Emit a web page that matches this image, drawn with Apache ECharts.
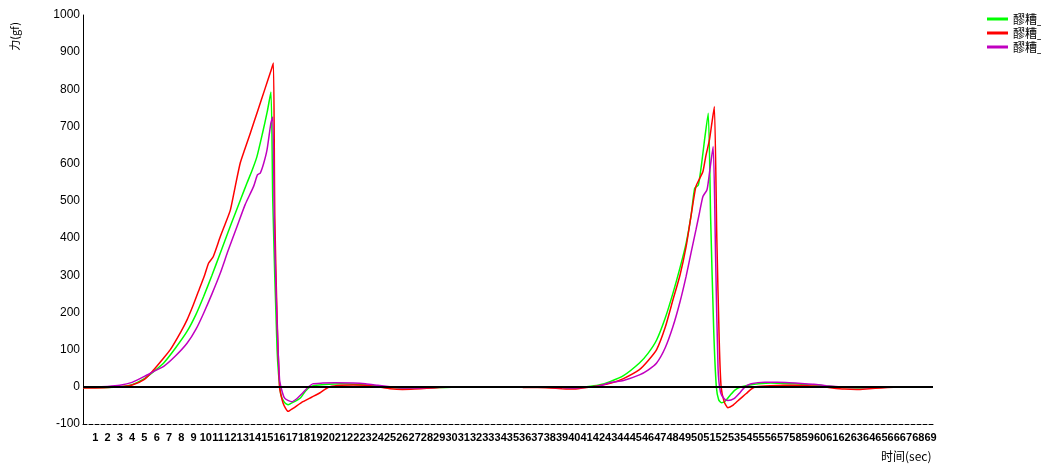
<!DOCTYPE html>
<html>
<head>
<meta charset="utf-8">
<script src="https://cdn.jsdelivr.net/npm/echarts@6/dist/echarts.min.js"></script>
<style>html,body{margin:0;padding:0;background:#fff;}#c{width:1041px;height:465px;}</style>
</head>
<body>
<div id="c"></div>
<script>
// x ticks (time, sec) and y ticks (force, gf)
const xTickLabels = Array.from({length: 69}, (_, i) => String(i + 1));
const yTicks = [-100, 0, 100, 200, 300, 400, 500, 600, 700, 800, 900, 1000];
const seriesNames = ['醪糟_1', '醪糟_2', '醪糟_3'];

// [time, force] readings; '-' marks the gap in recording
const greenData = [
  [0,-2],[1,-2],[2,-2],[3,0],[4,6],[5,22],[5.8,42],[6.57,64],[7.5,103],[8.47,149],[9.2,195],[9.82,243],
  [10.5,300],[11.18,360],[11.8,415],[12.4,467],[12.9,510],[13.35,548],[13.8,585],[14.16,619],[14.6,680],
  [15.0,740],[15.3,793],[15.45,500],[15.8,100],[16.1,-20],[16.4,-42],[16.7,-48],[17.2,-40],[17.7,-30],
  [18.1,-12],[18.5,0],[19,4],[20,7],[21,8],[22,7],[23,5],[24,2],[25,-2],[26,-4],[27,-4],[28,-3],[29,-2],
  [30,-1],[30.9,0],[33,'-'],
  [35.8,0],[37,0],[38,-1],[39,-2],[40,-3],[41,0],[42,5],[42.9,14],[44,30],[45.3,64],[46,90],[46.7,126],
  [47.4,185],[48.03,252],[48.6,320],[49.1,386],[49.5,460],[49.8,534],[50.1,543],[50.4,610],[50.6,664],
  [50.9,736],[51.1,450],[51.35,150],[51.56,0],[51.75,-35],[51.97,-43],[52.3,-38],[52.7,-22],[53.1,-8],
  [53.6,0],[54.3,5],[55,8],[56,10],[57,9],[58,8],[59,6],[60,4],[61,1],[62,-2],[63,-3],[64,-2],[65,-1],
  [66,0],[67,0],[68,0],[69.2,0]
];
const redData = [
  [0,-3],[1,-3],[2,-2],[3,0],[4,5],[5,20],[5.76,46],[6.5,75],[7.11,100],[8,150],[8.47,180],[9,222],
  [9.55,270],[9.9,300],[10.23,333],[10.6,350],[11.18,404],[11.6,440],[12.0,476],[12.4,540],[12.8,602],
  [13.15,637],[13.6,680],[14.2,740],[14.8,800],[15.3,850],[15.5,871],[15.62,450],[16.0,0],[16.3,-45],
  [16.7,-66],[17.1,-58],[17.9,-40],[18.6,-28],[19.3,-16],[19.7,-7],[20.1,0],[21,4],[22,5],[23,4],
  [24,0],[25,-5],[26,-7],[27,-6],[28,-4],[29,-2],[30,-1],[30.9,0],[33,'-'],
  [35.8,-2],[37,-2],[38,-3],[39,-5],[40,-6],[41,-2],[42,3],[43,10],[44,22],[45.3,46],[46,70],[46.7,100],
  [47.4,160],[48.03,234],[48.6,300],[49.1,377],[49.5,460],[49.9,539],[50.2,560],[50.47,579],[50.7,620],
  [51.0,664],[51.2,710],[51.4,754],[51.6,400],[51.8,120],[51.95,0],[52.2,-40],[52.5,-56],[52.9,-50],
  [53.4,-35],[54,-18],[54.4,-6],[54.8,0],[56,3],[57,4],[58,4],[59,3],[60,1],[61,-3],[62,-6],[63,-7],
  [64,-5],[65,-3],[66,-1],[67,0],[68,0],[69.2,0]
];
const purpleData = [
  [0,0],[1,0],[2,1],[3,4],[4,12],[5,28],[5.8,42],[6.57,55],[7.5,82],[8.47,117],[9.2,155],[9.82,198],
  [10.5,250],[11.18,306],[11.8,365],[12.54,431],[13.2,490],[13.89,539],[14.2,570],[14.43,575],[14.7,600],
  [14.98,637],[15.3,710],[15.45,726],[15.6,400],[16.0,20],[16.4,-30],[17.0,-40],[17.4,-32],[17.9,-16],
  [18.3,-2],[18.7,8],[19.5,10],[20.5,11],[22,10],[23,8],[24,4],[25,0],[26,-3],[27,-3],[28,-2],[29,-1],
  [30,0],[30.9,0],[33,'-'],
  [35.8,0],[37,0],[38,-1],[39,-2],[40,-3],[41,-1],[42,2],[42.9,11],[44,17],[45.3,32],[46,45],[46.7,64],
  [47.4,105],[48.03,162],[48.6,228],[49.1,297],[49.5,360],[49.9,422],[50.2,470],[50.47,512],[50.8,530],
  [51.0,575],[51.3,646],[51.5,350],[51.7,50],[51.9,-15],[52.2,-32],[52.5,-37],[53.0,-32],[53.5,-15],
  [53.9,0],[54.4,8],[55.5,12],[56.5,12],[57.5,11],[58.5,9],[59.5,7],[60.5,3],[61.5,0],[62.5,-2],
  [63.5,-2],[64.5,-1],[66,0],[69.2,0]
];

const colors = ['#00ff00', '#ff0000', '#c000c0'];
const chart = echarts.init(document.getElementById('c'), null, {renderer: 'canvas'});

function mkSeries(name, data, color, withZero) {
  const s = {
    name: name, type: 'line', data: data, showSymbol: false, symbol: 'none',
    smooth: 0.2, connectNulls: false,
    lineStyle: {color: color, width: 1.5}, itemStyle: {color: color},
    emphasis: {disabled: true}
  };
  if (withZero) {
    s.markLine = {
      silent: true, symbol: ['none', 'none'], label: {show: false},
      lineStyle: {color: '#000', width: 2, type: 'solid'},
      emphasis: {disabled: true},
      data: [{yAxis: 0}]
    };
  }
  return s;
}

chart.setOption({
  animation: false,
  grid: {left: 83, right: 108, top: 15, bottom: 41},
  legend: {
    left: 982, top: 7, orient: 'vertical', itemGap: 0,
    itemWidth: 21, itemHeight: 3, icon: 'rect',
    data: seriesNames,
    formatter: function (n) { return n.replace(/\d+$/, ''); },
    textStyle: {fontFamily: 'Noto Sans CJK SC', fontSize: 12, color: '#000', lineHeight: 14}
  },
  xAxis: {
    type: 'value', min: 0, max: 69.2, interval: 1,
    axisLine: {onZero: false, lineStyle: {color: '#000', type: 'dashed', width: 1}},
    axisTick: {show: false},
    splitLine: {show: false},
    axisLabel: {
      color: '#000', fontFamily: 'Liberation Sans', fontWeight: 'bold', fontSize: 11, margin: 8,
      showMinLabel: false, showMaxLabel: false,
      formatter: function (v) {
        const i = Math.round(v);
        return (Math.abs(v - i) < 1e-6 && i >= 1 && i <= xTickLabels.length) ? xTickLabels[i - 1] : '';
      }
    }
  },
  yAxis: {
    type: 'value', min: yTicks[0], max: yTicks[yTicks.length - 1], interval: 100,
    axisLine: {show: true, lineStyle: {color: '#000', width: 1}},
    axisTick: {show: false},
    splitLine: {show: false},
    axisLabel: {color: '#000', fontFamily: 'Liberation Sans', fontSize: 12, margin: 3,
      formatter: function (v) { return String(v); }}
  },
  graphic: [
    {type: 'text', left: 9, top: 22, rotation: Math.PI / 2,
     style: {text: '力(gf)', fill: '#000', font: '11px "Noto Sans CJK SC"'}},
    {type: 'text', left: 881, top: 450,
     style: {text: '时间(sec)', fill: '#000', font: '12px "Noto Sans CJK SC"'}}
  ],
  series: [
    mkSeries(seriesNames[0], greenData, colors[0], true),
    mkSeries(seriesNames[1], redData, colors[1], false),
    mkSeries(seriesNames[2], purpleData, colors[2], false)
  ]
});
</script>
</body>
</html>
